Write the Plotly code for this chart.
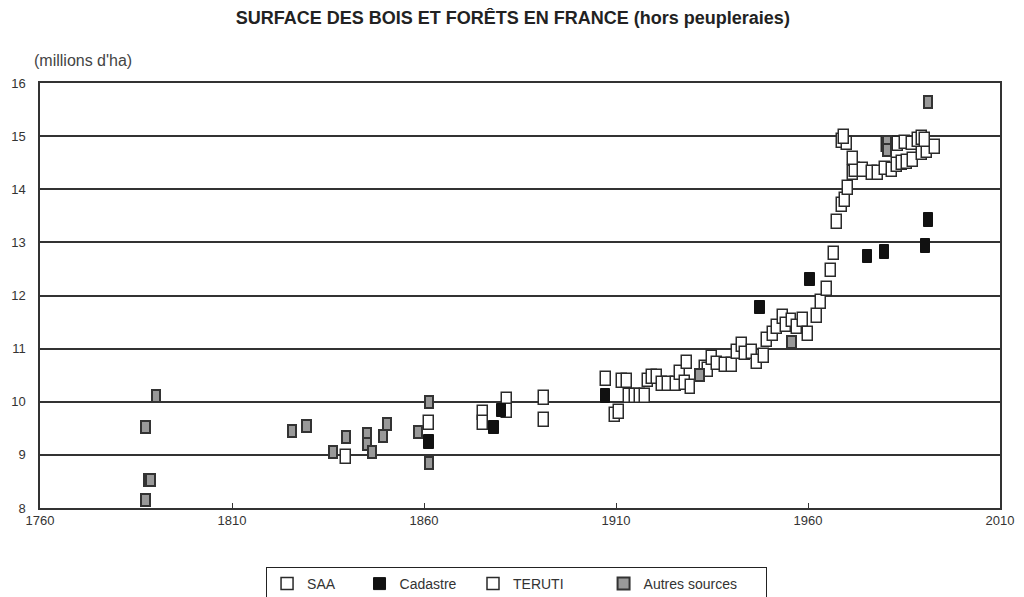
import plotly.graph_objects as go

# ---- data (year, millions d'ha) ----
saa_years = [1839.7, 1861.3, 1875.4, 1875.4, 1881.6, 1881.6, 1891.2, 1891.2, 1907.3, 1909.7,
             1910.8, 1911.5, 1912.8, 1913.5, 1915.0, 1916.2, 1917.6, 1918.3, 1919.3, 1920.8,
             1921.9, 1923.6, 1925.6, 1926.7, 1928.4, 1928.0, 1929.4, 1933.2, 1934.0, 1934.9,
             1936.2, 1938.4, 1940.1, 1941.4, 1942.7, 1943.6, 1945.3, 1946.6, 1948.5, 1949.4,
             1950.8, 1951.8, 1953.6, 1954.3, 1955.7, 1957.2, 1958.8, 1960.1, 1962.4, 1963.3,
             1964.9, 1965.9, 1966.8, 1967.6, 1968.8, 1969.6, 1970.5, 1971.8, 1972.2, 1974.4,
             1976.6, 1978.3, 1980.1, 1981.8, 1983.1, 1984.4, 1985.7, 1987.4, 1989.6, 1990.9,
             1993.1, 1971.6, 1968.8, 1970.1, 1969.3]
saa_values = [8.96, 9.60, 9.79, 9.60, 10.03, 9.83, 10.07, 9.66, 10.43, 9.75,
              9.81, 10.39, 10.39, 10.11, 10.11, 10.11, 10.11, 10.40, 10.46, 10.47,
              10.33, 10.33, 10.33, 10.54, 10.74, 10.35, 10.28, 10.64, 10.60, 10.82,
              10.72, 10.69, 10.69, 10.94, 11.07, 10.91, 10.94, 10.75, 10.86, 11.17,
              11.27, 11.41, 11.60, 11.44, 11.53, 11.41, 11.54, 11.27, 11.61, 11.88,
              12.13, 12.47, 12.79, 13.39, 13.70, 13.80, 14.02, 14.30, 14.36, 14.36,
              14.30, 14.31, 14.39, 14.36, 14.46, 14.50, 14.52, 14.55, 14.68, 14.71,
              14.79, 14.58, 14.91, 14.86, 14.99]

teruti_years = [1980.5, 1981.8, 1983.5, 1985.3, 1987.0, 1988.7, 1989.6, 1990.5]
teruti_values = [14.83, 14.86, 14.85, 14.88, 14.86, 14.93, 14.96, 14.93]

cadastre_years = [1861.3, 1878.2, 1880.2, 1907.3, 1947.5, 1960.5, 1975.5, 1979.9, 1990.6, 1991.3]
cadastre_values = [9.24, 9.51, 9.83, 10.11, 11.78, 12.30, 12.73, 12.82, 12.93, 13.42]

autres_years = [1790.2, 1787.5, 1788.1, 1788.8, 1787.5, 1825.6, 1829.4, 1836.3, 1839.7, 1845.2,
                1845.2, 1846.5, 1849.3, 1850.4, 1858.4, 1861.3, 1861.3, 1931.7, 1955.7, 1980.6,
                1980.6, 1991.3]
autres_values = [10.11, 9.52, 8.53, 8.53, 8.15, 9.45, 9.55, 9.05, 9.34, 9.40,
                 9.20, 9.05, 9.36, 9.58, 9.43, 10.00, 8.85, 10.50, 11.13, 14.89,
                 14.74, 15.64]

series_names = ["SAA", "Cadastre", "TERUTI", "Autres sources"]
x_ticks = [1760, 1810, 1860, 1910, 1960, 2010]
y_ticks = [8, 9, 10, 11, 12, 13, 14, 15, 16]

# legend spacing (non-breaking spaces after each label)
NB = "\u00a0"
legend_pad = [5, 3, 9, 6]

# ---- mark styles (rectangles drawn as floating bars) ----
def rect_trace(name, xs, ys, w, h, fill, line, lw):
    return go.Bar(
        name=name, x=xs, y=[h] * len(ys), base=[v - h / 2 for v in ys],
        width=w, marker=dict(color=fill, line=dict(color=line, width=lw)),
        hoverinfo="skip",
    )

labels = [n + NB * p for n, p in zip(series_names, legend_pad)]

fig = go.Figure()
fig.add_trace(rect_trace(labels[0], saa_years, saa_values, 2.6, 0.26, "white", "#2a2a2a", 1.5))
fig.add_trace(rect_trace(labels[1], cadastre_years, cadastre_values, 2.4, 0.25, "#111111", "#111111", 1))
fig.add_trace(rect_trace(labels[2], teruti_years, teruti_values, 2.6, 0.26, "white", "#2a2a2a", 1.5))
fig.add_trace(rect_trace(labels[3], autres_years, autres_values, 2.2, 0.22, "#999999", "#333333", 2))

fig.update_layout(
    width=1024, height=597,
    margin=dict(l=32, r=32, t=75, b=97, autoexpand=False),
    paper_bgcolor="white", plot_bgcolor="white",
    barmode="overlay", bargap=0,
    font=dict(family="Liberation Sans, Arial, sans-serif", size=13, color="#333333"),
    title=dict(
        text="<b>SURFACE DES BOIS ET FORÊTS EN FRANCE</b> <b>(hors peupleraies)</b>",
        x=0.493, xref="container", xanchor="center",
        y=1 - 10 / 597, yref="container", yanchor="middle",
        font=dict(family="Liberation Sans Narrow, Liberation Sans, sans-serif", size=18, color="#222222"),
    ),
    xaxis=dict(
        range=[1760, 2010], tickvals=x_ticks, ticktext=[str(t) for t in x_ticks],
        showgrid=False, zeroline=False, showline=True, linecolor="#333333", linewidth=1.5,
        mirror=True, ticks="inside", ticklen=5, tickcolor="#333333", tickwidth=1,
        tickfont=dict(size=13, color="#333333"), automargin=False,
    ),
    yaxis=dict(
        range=[8, 16], tickvals=y_ticks,
        showgrid=True, gridcolor="#333333", gridwidth=1.5, zeroline=False,
        showline=True, linecolor="#333333", linewidth=1.5, mirror=True,
        ticks="", ticklabelstandoff=10,
        tickfont=dict(size=13, color="#333333"), automargin=False,
    ),
    legend=dict(
        orientation="h", x=0.252, xref="container", xanchor="left",
        y=1 - 559 / 597, yref="container", yanchor="top",
        bordercolor="#222222", borderwidth=1, bgcolor="white",
        font=dict(size=14, color="#333333"), traceorder="normal",
    ),
    annotations=[dict(
        text="(millions d'ha)", x=-0.008, xref="paper", y=1.0, yref="paper",
        xanchor="left", yanchor="bottom", yshift=12, showarrow=False,
        font=dict(size=16, color="#444444"),
    )],
)

fig.write_html("out.html")
